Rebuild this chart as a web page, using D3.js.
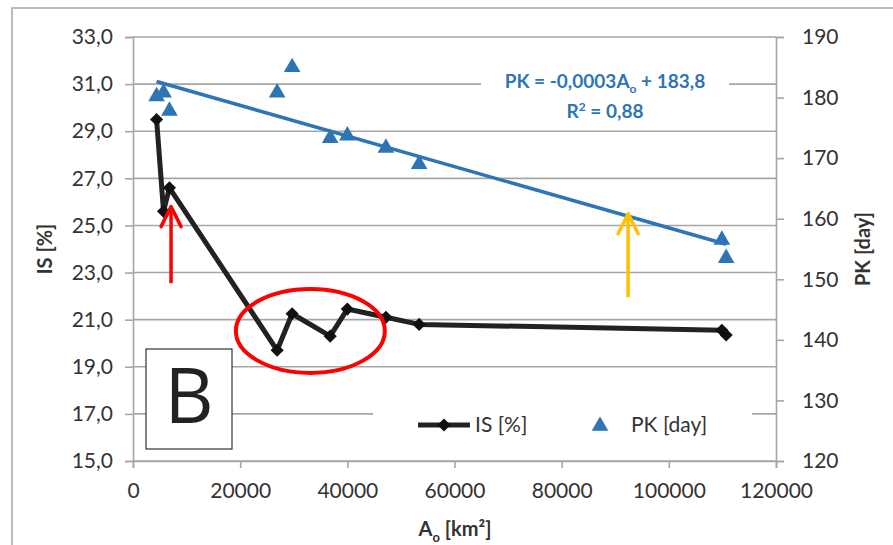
<!DOCTYPE html>
<html lang="en">
<head>
    <meta charset="UTF-8">
    <title>IS and PK vs catchment area</title>
    <script src="https://d3js.org/d3.v7.min.js"></script>
    <style>
        html, body {
            margin: 0;
            padding: 0;
            background: #fff;
        }
        svg {
            display: block;
            font-family: Lato, "Open Sans", sans-serif;
        }
    </style>
</head>
<body>
    <svg id="chart" width="893" height="545"></svg>

    <script>
        // catchment area A_o [km2], shared by both series
        const areas = [4400, 5700, 6800, 26900, 29700, 36800, 40000, 47200, 53400, 109900, 110700];
        const isValues = [29.5, 25.6, 26.6, 19.7, 21.25, 20.3, 21.45, 21.1, 20.8, 20.55, 20.35];
        const pkValues = [180.2, 180.8, 177.8, 180.8, 185.0, 173.3, 173.7, 171.7, 169.0, 156.5, 153.5];

        const xTicks = [0, 20000, 40000, 60000, 80000, 100000, 120000];
        const isTicks = [15, 17, 19, 21, 23, 25, 27, 29, 31, 33];
        const pkTicks = [120, 130, 140, 150, 160, 170, 180, 190];

        // hand drawn marks, in data units (x = area, y = IS)
        const redArrow = { x: 7100, from: 22.55, to: 25.8 };
        const yellowArrow = { x: 92400, from: 21.95, to: 25.5 };
        const circled = { x: 33100, y: 20.52, rx: 13900, ry: 1.78 };

        const svg = d3.select("#chart");
        const W = 893, H = 545;
        const margin = { top: 37, right: 117, bottom: 84, left: 133 };

        const x = d3.scaleLinear().domain([0, 120000]).range([margin.left, W - margin.right]);
        const yL = d3.scaleLinear().domain([15, 33]).range([H - margin.bottom, margin.top]);
        const yR = d3.scaleLinear().domain([120, 190]).range([H - margin.bottom, margin.top]);

        const grey = "#a6a6a6";
        const textCol = "#333";
        const blue = "#2e75b6";

        // outer chart frame
        svg.append("rect")
            .attr("x", 12).attr("y", 8)
            .attr("width", W + 20).attr("height", H + 20)
            .attr("fill", "#fff")
            .attr("stroke", grey).attr("stroke-width", 1.5);

        // gridlines
        svg.append("g")
            .selectAll("line")
            .data(isTicks)
            .join("line")
            .attr("x1", x(0)).attr("x2", x(120000))
            .attr("y1", d => yL(d)).attr("y2", d => yL(d))
            .attr("stroke", grey).attr("stroke-width", 1.6);

        const fmt = d => d3.format(".1f")(d).replace(".", ",");

        // left axis
        const gL = svg.append("g")
            .attr("transform", `translate(${x(0)},0)`)
            .call(d3.axisLeft(yL).tickValues(isTicks).tickFormat(fmt).tickSize(8).tickPadding(12));

        // right axis
        const gR = svg.append("g")
            .attr("transform", `translate(${x(120000)},0)`)
            .call(d3.axisRight(yR).tickValues(pkTicks).tickSize(8).tickPadding(18));

        // bottom axis
        const gB = svg.append("g")
            .attr("transform", `translate(0,${yL(15)})`)
            .call(d3.axisBottom(x).tickValues(xTicks).tickFormat(d3.format("d")).tickSize(7).tickPadding(15));

        [gL, gR, gB].forEach(g => {
            g.select(".domain").attr("stroke", grey).attr("stroke-width", 1.6);
            g.selectAll(".tick line").attr("stroke", grey).attr("stroke-width", 1.6);
            g.selectAll(".tick text")
                .attr("fill", textCol)
                .style("font-size", "21px")
                .style("font-family", "Lato, 'Open Sans', sans-serif");
        });

        // axis titles
        svg.append("text")
            .attr("transform", `translate(52,${yL(24)}) rotate(-90)`)
            .attr("text-anchor", "middle")
            .attr("fill", textCol)
            .style("font-size", "20px").style("font-weight", "bold")
            .text("IS [%]");

        svg.append("text")
            .attr("transform", `translate(870,${yL(24)}) rotate(-90)`)
            .attr("text-anchor", "middle")
            .attr("fill", textCol)
            .style("font-size", "20px").style("font-weight", "bold")
            .text("PK [day]");

        const xt = svg.append("text")
            .attr("x", 455).attr("y", 536)
            .attr("text-anchor", "middle")
            .attr("fill", textCol)
            .style("font-size", "20px").style("font-weight", "bold");
        xt.append("tspan").text("A");
        xt.append("tspan").attr("dy", 6).style("font-size", "13px").text("o");
        xt.append("tspan").attr("dy", -6).text(" [km²]");

        // IS series
        const isPts = areas.map((a, i) => [a, isValues[i]]);
        svg.append("path")
            .datum(isPts)
            .attr("fill", "none")
            .attr("stroke", "#222")
            .attr("stroke-width", 5)
            .attr("stroke-linejoin", "round")
            .attr("d", d3.line().x(d => x(d[0])).y(d => yL(d[1])));

        const diamond = d3.symbol().type(d3.symbolDiamond2).size(110);
        svg.append("g")
            .selectAll("path")
            .data(isPts)
            .join("path")
            .attr("transform", d => `translate(${x(d[0])},${yL(d[1])})`)
            .attr("d", diamond)
            .attr("fill", "#111");

        // PK series
        const pkPts = areas.map((a, i) => [a, pkValues[i]]);
        const tri = d3.symbol().type(d3.symbolTriangle).size(120);
        svg.append("g")
            .selectAll("path")
            .data(pkPts)
            .join("path")
            .attr("transform", d => `translate(${x(d[0])},${yR(d[1])})`)
            .attr("d", tri)
            .attr("fill", blue);

        // linear trendline for PK
        const mx = d3.mean(areas), my = d3.mean(pkValues);
        const slope = d3.sum(areas, (a, i) => (a - mx) * (pkValues[i] - my)) /
            d3.sum(areas, a => (a - mx) * (a - mx));
        const icpt = my - slope * mx;
        const [xmin, xmax] = d3.extent(areas);
        svg.append("line")
            .attr("x1", x(xmin)).attr("y1", yR(icpt + slope * xmin))
            .attr("x2", x(xmax)).attr("y2", yR(icpt + slope * xmax))
            .attr("stroke", blue).attr("stroke-width", 3.5);

        // trendline equation label
        svg.append("rect")
            .attr("x", 481).attr("y", 64).attr("width", 248).attr("height", 62)
            .attr("fill", "#fff");
        const eq = svg.append("text")
            .attr("x", 605).attr("y", 88)
            .attr("text-anchor", "middle")
            .attr("fill", blue)
            .style("font-size", "19px").style("font-weight", "bold");
        eq.append("tspan").text("PK = -0,0003A");
        eq.append("tspan").attr("dy", 5).style("font-size", "12px").text("o");
        eq.append("tspan").attr("dy", -5).text(" + 183,8");
        const r2 = svg.append("text")
            .attr("x", 605).attr("y", 118)
            .attr("text-anchor", "middle")
            .attr("fill", blue)
            .style("font-size", "19px").style("font-weight", "bold");
        r2.append("tspan").text("R");
        r2.append("tspan").attr("dy", -7).style("font-size", "12px").text("2");
        r2.append("tspan").attr("dy", 7).text(" = 0,88");

        // legend
        svg.append("rect")
            .attr("x", 373).attr("y", 388).attr("width", 379).attr("height", 62)
            .attr("fill", "#fff");
        svg.append("line")
            .attr("x1", 418).attr("x2", 470).attr("y1", 425).attr("y2", 425)
            .attr("stroke", "#222").attr("stroke-width", 5);
        svg.append("path")
            .attr("transform", "translate(444,425)")
            .attr("d", diamond)
            .attr("fill", "#111");
        svg.append("text")
            .attr("x", 475).attr("y", 432)
            .attr("fill", textCol).style("font-size", "21px")
            .text("IS [%]");
        svg.append("path")
            .attr("transform", "translate(600,426)")
            .attr("d", tri)
            .attr("fill", blue);
        svg.append("text")
            .attr("x", 631).attr("y", 432)
            .attr("fill", textCol).style("font-size", "21px")
            .text("PK [day]");

        // "B" panel label
        svg.append("rect")
            .attr("x", 146).attr("y", 349).attr("width", 86).attr("height", 100)
            .attr("fill", "#fff")
            .attr("stroke", "#333").attr("stroke-width", 1.2);
        svg.append("text")
            .attr("x", 189).attr("y", 423)
            .attr("text-anchor", "middle")
            .attr("fill", "#222")
            .style("font-size", "76px")
            .style("font-family", "'Open Sans', sans-serif")
            .text("B");

        // annotations
        function arrow(a, color) {
            const ax = x(a.x), y0 = yL(a.from), y1 = yL(a.to);
            svg.append("line")
                .attr("x1", ax).attr("x2", ax).attr("y1", y0).attr("y2", y1 + 2)
                .attr("stroke", color).attr("stroke-width", 3.5);
            svg.append("polyline")
                .attr("points", `${ax - 10},${y1 + 20} ${ax},${y1} ${ax + 10},${y1 + 20}`)
                .attr("fill", "none")
                .attr("stroke", color).attr("stroke-width", 3.5)
                .attr("stroke-linecap", "round").attr("stroke-linejoin", "round");
        }
        arrow(redArrow, "#ff0000");
        arrow(yellowArrow, "#ffc000");

        svg.append("ellipse")
            .attr("cx", x(circled.x)).attr("cy", yL(circled.y))
            .attr("rx", x(circled.rx) - x(0))
            .attr("ry", yL(0) - yL(circled.ry))
            .attr("fill", "none")
            .attr("stroke", "#ff0000").attr("stroke-width", 4);
    </script>
</body>
</html>
